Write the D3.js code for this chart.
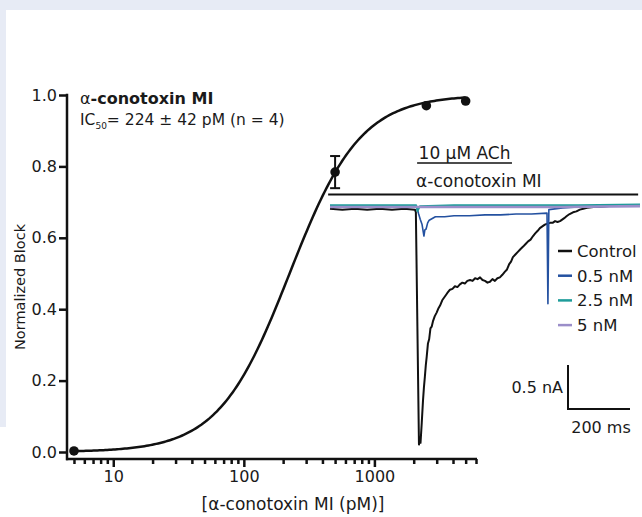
<!DOCTYPE html>
<html>
<head>
<meta charset="utf-8">
<script src="https://cdnjs.cloudflare.com/ajax/libs/d3/7.8.5/d3.min.js"></script>
<style>
  body { margin: 0; background: #fff; }
  text { font-family: "DejaVu Sans", sans-serif; fill: #1a1a1a; }
</style>
</head>
<body>
<div id="chart"></div>
<script>
// dose-response data
const doses = [5, 500, 2500, 5000];
const block = [0.003, 0.784, 0.97, 0.983];
const blockErr = [0, 0.045, 0, 0];
const ic50 = 224;
const hill = 1.6;
const xTicks = [10, 100, 1000];
const xMinorTicks = [5, 6, 7, 8, 9, 20, 30, 40, 50, 60, 70, 80, 90,
    200, 300, 400, 500, 600, 700, 800, 900, 2000, 3000, 4000, 5000, 6000];
const yTicks = [0, 0.2, 0.4, 0.6, 0.8, 1.0];

// inset current traces, t in ms, I in nA
const traceNames = ["Control", "0.5 nM", "2.5 nM", "5 nM"];
const traceColors = ["#111111", "#2451a0", "#1e9c9a", "#9b8ec9"];
const controlT = [0, 40, 80, 120, 160, 200, 240, 274, 277, 287, 290, 292, 296, 300, 303, 306, 309, 312,
    316, 320, 324, 328, 332, 338, 344, 350, 355, 362, 370, 378, 387, 395, 403, 411, 419, 427, 435, 443,
    452, 460, 468, 476, 484, 492, 500, 508, 516, 524, 532, 540, 548, 556, 563, 571, 578, 584, 590, 598,
    606, 614, 623, 631, 639, 647, 655, 662, 670, 677, 685, 693, 701, 710, 718, 726, 734, 742, 750, 758,
    765, 773, 784, 795, 806, 817, 829, 850, 871, 900, 950, 1000];
const controlI = [-0.02, -0.03, -0.02, -0.03, -0.02, -0.03, -0.02, -0.03, -0.06, -2.70, -2.62, -2.68,
    -2.45, -2.20, -2.05, -1.93, -1.80, -1.70, -1.55, -1.50, -1.38, -1.36, -1.30, -1.24, -1.20, -1.15,
    -1.12, -1.06, -1.02, -0.98, -0.94, -0.93, -0.90, -0.91, -0.88, -0.86, -0.87, -0.84, -0.83, -0.84,
    -0.81, -0.82, -0.80, -0.83, -0.84, -0.86, -0.85, -0.82, -0.84, -0.81, -0.80, -0.77, -0.74, -0.71,
    -0.65, -0.62, -0.57, -0.54, -0.51, -0.48, -0.45, -0.42, -0.39, -0.37, -0.33, -0.30, -0.27, -0.24,
    -0.22, -0.20, -0.19, -0.18, -0.18, -0.16, -0.17, -0.16, -0.14, -0.12, -0.10, -0.08, -0.06, -0.05,
    -0.03, -0.02, -0.01, 0, 0, 0.01, 0.01, 0.02];
const blueT = [0, 100, 200, 280, 286, 291, 297, 303, 306, 310, 315, 320, 330, 340, 370, 400, 450, 500,
    550, 600, 650, 700, 703, 706, 750, 800, 900, 1000];
const blueI = [0, 0.01, 0, 0, -0.08, -0.14, -0.2, -0.33, -0.26, -0.25, -0.18, -0.15, -0.13, -0.11,
    -0.11, -0.1, -0.1, -0.09, -0.09, -0.08, -0.08, -0.07, -1.1, -0.03, -0.01, 0, 0.01, 0.01];
const tealT = [0, 100, 200, 278, 282, 290, 400, 600, 800, 1000];
const tealI = [0.02, 0.02, 0.02, 0.02, -0.05, 0.01, 0.02, 0.02, 0.02, 0.03];
const purpleT = [0, 250, 500, 750, 1000];
const purpleI = [0, 0, 0, 0, 0.01];

// application bars (ms)
const stimLabels = ["10 µM ACh", "α-conotoxin MI"];
const stimStart = [281, -6];
const stimEnd = [587, 994];

const W = 642, H = 517;
const svg = d3.select("#chart").append("svg")
    .attr("width", W).attr("height", H);

// page background frame
svg.append("rect").attr("x", 0).attr("y", 0).attr("width", W).attr("height", 10).attr("fill", "#e7ebf5");
svg.append("rect").attr("x", 0).attr("y", 0).attr("width", 6).attr("height", 427).attr("fill", "#e7ebf5");

// scales
const x = d3.scaleLog().domain([4.5, 6000]).range([68, 476]);
const y = d3.scaleLinear().domain([0, 1]).range([452, 95]);
const axisY = 459;

// y axis
const gy = svg.append("g").attr("transform", "translate(67,0)")
    .call(d3.axisLeft(y).tickValues(yTicks).tickFormat(d3.format(".1f")).tickSize(8).tickPadding(2));
gy.select(".domain").remove();
gy.attr("font-family", null).attr("font-size", null);
gy.selectAll(".tick line").attr("stroke", "#111").attr("stroke-width", 2.5);
gy.selectAll(".tick text").style("font-size", "16px").attr("fill", "#1a1a1a");
svg.append("line").attr("x1", 67).attr("x2", 67).attr("y1", y(1) - 1.2).attr("y2", axisY + 1.2)
    .attr("stroke", "#111").attr("stroke-width", 2.5);

// x axis
const gxm = svg.append("g").attr("transform", `translate(0,${axisY})`)
    .call(d3.axisBottom(x).tickValues(xMinorTicks).tickFormat("").tickSize(5));
gxm.select(".domain").remove();
gxm.selectAll(".tick line").attr("stroke", "#111").attr("stroke-width", 2.5);
const gx = svg.append("g").attr("transform", `translate(0,${axisY})`)
    .call(d3.axisBottom(x).tickValues(xTicks).tickFormat(d3.format("d")).tickSize(8).tickPadding(4));
gx.select(".domain").remove();
gx.attr("font-family", null).attr("font-size", null);
gx.selectAll(".tick line").attr("stroke", "#111").attr("stroke-width", 2.5);
gx.selectAll(".tick text").style("font-size", "16px").attr("fill", "#1a1a1a");
svg.append("line").attr("x1", 66).attr("x2", 477).attr("y1", axisY).attr("y2", axisY)
    .attr("stroke", "#111").attr("stroke-width", 2.5);

// axis titles
svg.append("text").attr("transform", "translate(25,287) rotate(-90)")
    .attr("text-anchor", "middle").style("font-size", "14.5px").text("Normalized Block");
svg.append("text").attr("x", 293).attr("y", 510).attr("text-anchor", "middle")
    .style("font-size", "17px").text("[α-conotoxin MI (pM)]");

// fitted Hill curve
const fitDoses = d3.range(0, 201).map(i => doses[0] * Math.pow(doses[3] / doses[0], i / 200));
const hillFit = c => Math.pow(c / ic50, hill) / (1 + Math.pow(c / ic50, hill));
svg.append("path")
    .datum(fitDoses)
    .attr("fill", "none").attr("stroke", "#111").attr("stroke-width", 2.5)
    .attr("d", d3.line().x(d => x(d)).y(d => y(hillFit(d))));

// error bars and points
doses.forEach((d, i) => {
    if (blockErr[i] > 0) {
        const cx = x(d);
        svg.append("line").attr("x1", cx).attr("x2", cx)
            .attr("y1", y(block[i] - blockErr[i])).attr("y2", y(block[i] + blockErr[i]))
            .attr("stroke", "#111").attr("stroke-width", 2);
        [block[i] - blockErr[i], block[i] + blockErr[i]].forEach(v => {
            svg.append("line").attr("x1", cx - 5).attr("x2", cx + 5)
                .attr("y1", y(v)).attr("y2", y(v))
                .attr("stroke", "#111").attr("stroke-width", 2);
        });
    }
    svg.append("circle").attr("cx", x(d)).attr("cy", y(block[i])).attr("r", 4.8).attr("fill", "#111");
});

// annotation
const t1 = svg.append("text").attr("x", 80).attr("y", 104).style("font-size", "16px");
t1.append("tspan").text("α");
t1.append("tspan").style("font-weight", "bold").text("-conotoxin MI");
const t2 = svg.append("text").attr("x", 80).attr("y", 125).style("font-size", "15.5px");
t2.append("tspan").text("IC");
t2.append("tspan").attr("dy", 4).style("font-size", "9px").text("50");
t2.append("tspan").attr("dy", -4).text("= 224 ± 42 pM (n = 4)");

// ---- inset ----
const xT = d3.scaleLinear().domain([0, 1000]).range([330, 640]);
const yI = d3.scaleLinear().domain([0, -3]).range([207, 471]);

// application bars
svg.append("line").attr("x1", xT(stimStart[0])).attr("x2", xT(stimEnd[0]))
    .attr("y1", 163).attr("y2", 163).attr("stroke", "#111").attr("stroke-width", 1.6);
svg.append("text").attr("x", (xT(stimStart[0]) + xT(stimEnd[0])) / 2).attr("y", 159)
    .attr("text-anchor", "middle").style("font-size", "17px").text(stimLabels[0]);
svg.append("line").attr("x1", xT(stimStart[1])).attr("x2", xT(stimEnd[1]))
    .attr("y1", 194.5).attr("y2", 194.5).attr("stroke", "#111").attr("stroke-width", 2.2);
svg.append("text").attr("x", xT(stimStart[0]) - 1).attr("y", 187)
    .style("font-size", "17px").text(stimLabels[1]);

// traces
const traceT = [controlT, blueT, tealT, purpleT];
const traceI = [controlI, blueI, tealI, purpleI];
const traceWidth = [2, 1.6, 1.8, 2.6];
const traceLine = d3.line().x(d => xT(d[0])).y(d => yI(d[1]));
traceT.forEach((ts, k) => {
    svg.append("path")
        .datum(ts.map((t, i) => [t, traceI[k][i]]))
        .attr("fill", "none").attr("stroke", traceColors[k])
        .attr("stroke-width", traceWidth[k]).attr("stroke-linejoin", "round")
        .attr("d", traceLine);
});

// legend
traceNames.forEach((name, i) => {
    const by = 257 + i * 24.7;
    svg.append("line").attr("x1", 558).attr("x2", 572).attr("y1", by - 6).attr("y2", by - 6)
        .attr("stroke", traceColors[i]).attr("stroke-width", 2.5);
    svg.append("text").attr("x", 577).attr("y", by).style("font-size", "16.5px").text(name);
});

// scale bars: 200 ms, 0.5 nA
const sbX = 568, sbY = 409;
svg.append("path")
    .attr("d", `M${sbX},${sbY - (yI(-0.5) - yI(0))}V${sbY}H${sbX + xT(200) - xT(0)}`)
    .attr("fill", "none").attr("stroke", "#111").attr("stroke-width", 2);
svg.append("text").attr("x", 563).attr("y", 393).attr("text-anchor", "end")
    .style("font-size", "16px").text("0.5 nA");
svg.append("text").attr("x", 601).attr("y", 433).attr("text-anchor", "middle")
    .style("font-size", "16px").text("200 ms");
</script>
</body>
</html>
